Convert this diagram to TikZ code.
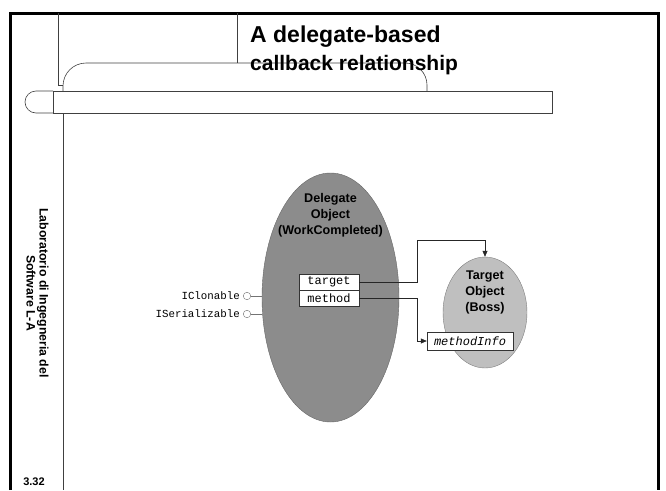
\documentclass[tikz,border=0pt]{standalone}
\usepackage{fontspec}
\setmainfont{Liberation Sans}
\setmonofont{Liberation Mono}
\usepackage{tikz}
\usetikzlibrary{positioning, shapes, arrows.meta}

\begin{document}
\begin{tikzpicture}[x=1pt, y=-1pt,
    rule/.style={draw=black!75, line width=0.6pt},
    field/.style={draw=black!80, fill=white, rectangle, minimum width=60, minimum height=16, inner sep=0pt, font=\ttfamily\fontsize{12}{12}\selectfont},
    lolly/.style={draw=black!55, circle, minimum size=7.5, inner sep=0pt},
    iname/.style={font=\ttfamily\fontsize{10.8}{11}\selectfont, inner sep=1pt},
    objtext/.style={align=center, font=\bfseries\fontsize{12.6}{16}\selectfont},
    link/.style={draw=black!85, line width=0.6pt, -{Triangle[length=6pt,width=5pt]}}]
  \useasboundingbox (0,0) rectangle (666,490);

  % slide frame and header
  \draw[line width=3pt] (10,490) -- (10,13) -- (658,13) -- (658,490);
  \draw[rule] (58,13) -- (58,85) -- (63,85);
  \draw[rule] (237,13) -- (237,63);
  \draw[rule] (63,91) -- (63,86) arc[start angle=180, end angle=90, radius=23pt] -- (405,63) arc[start angle=90, end angle=0, radius=22pt] -- (427,91);
  \draw[rule] (53,91) rectangle (552,113);
  \draw[rule] (53,91) -- (36,91) arc[start angle=90, end angle=270, radius=11pt] -- (53,113);
  \draw[rule] (63,113) -- (63,490);

  \node[anchor=base west, inner sep=0pt, font=\bfseries\fontsize{23}{23}\selectfont] (title1) at (250,42) {A delegate-based};
  \node[anchor=base west, inner sep=0pt, font=\bfseries\fontsize{21}{21}\selectfont] (title2) at (250,70) {callback relationship};
  \node[rotate=-90, align=center, font=\bfseries\fontsize{12.3}{13}\selectfont] (course) at (37.5,293) {Laboratorio di Ingegneria del\\Software L-A};
  \node[font=\bfseries\fontsize{11}{11}\selectfont] (pageno) at (34,482) {3.32};

  % delegate object
  \node[ellipse, draw=black!60, fill=black!45, minimum width=137, minimum height=249] (deleg) at (330.5,297.5) {};
  \node[objtext] (delegname) at (330.5,215) {Delegate\\Object\\(WorkCompleted)};
  \node[field] (target) at (329,282) {target};
  \node[field, below=0pt of target] (method) {method};

  \node[lolly] (clon) at (247,296) {};
  \node[lolly] (seri) at (247,314) {};
  \node[iname, left=2pt of clon] (clonname) {IClonable};
  \node[iname, left=2pt of seri] (seriname) {ISerializable};
  \draw[draw=black!55] (clon) -- (clon -| deleg.west);
  \draw[draw=black!55] (seri) -- (seri -| deleg.west);

  % target object
  \node[ellipse, draw=black!50, fill=black!25, minimum width=84, minimum height=111] (boss) at (485,312.5) {};
  \node[objtext] (bossname) at (485,292) {Target\\Object\\(Boss)};
  \node[field, minimum width=86, minimum height=18, font=\ttfamily\itshape\fontsize{12}{12}\selectfont] (info) at (470,341) {methodInfo};

  \coordinate (tbend) at (417,240);
  \coordinate (mbend) at (417,341);
  \draw[link] (target.east) -| (tbend) -| (boss.north);
  \draw[link] (method.east) -| (mbend) -- (info.west);
\end{tikzpicture}
\end{document}
